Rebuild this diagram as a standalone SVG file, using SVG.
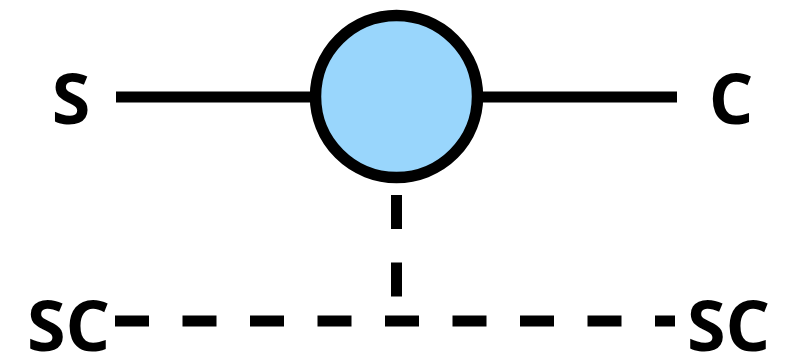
<svg xmlns="http://www.w3.org/2000/svg" width="799" height="356" viewBox="0 0 799 356">
<style>
.lbl{font-family:"Open Sans","Noto Sans","DejaVu Sans",sans-serif;font-weight:bold;font-size:70px;fill:#000}
.ln{stroke:#000;stroke-width:11;fill:none}
.dash{stroke-dasharray:34 33.5}
</style>
<rect width="799" height="356" fill="#fff"/>
<g id="connectors">
<line class="ln" x1="116" y1="97" x2="316" y2="97"/>
<line class="ln" x1="477" y1="97" x2="677" y2="97"/>
<line class="ln dash" x1="396.5" y1="195" x2="396.5" y2="321"/>
<line class="ln dash" x1="115" y1="321" x2="675" y2="321"/>
</g>
<g id="node-center"><circle cx="396.5" cy="96.5" r="81" fill="#99d6fc" stroke="#000" stroke-width="11.5"/></g>
<g id="node-S"><text class="lbl" x="71" y="124" text-anchor="middle">S</text></g>
<g id="node-C"><text class="lbl" x="731" y="124" text-anchor="middle">C</text></g>
<g id="node-SC-left"><text class="lbl" x="68.5" y="351" text-anchor="middle">SC</text></g>
<g id="node-SC-right"><text class="lbl" x="728.5" y="351" text-anchor="middle">SC</text></g>
</svg>
